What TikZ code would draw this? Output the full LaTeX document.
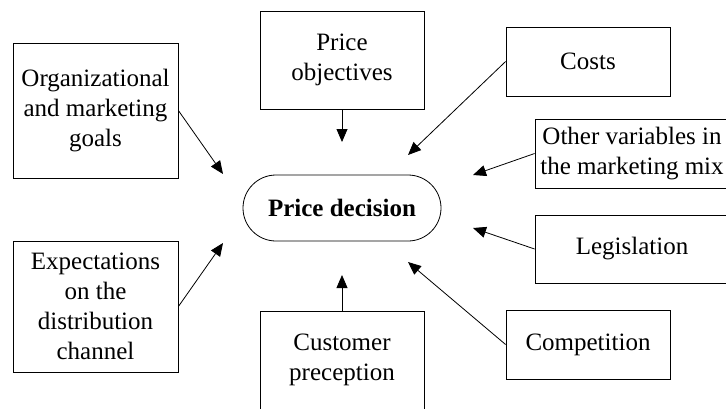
\documentclass[tikz,border=0pt]{standalone}
\usepackage{fontspec}
\setmainfont{Liberation Serif}
\usetikzlibrary{arrows.meta}
\begin{document}
\begin{tikzpicture}[x=1pt,y=-1pt,
  box/.style={draw, line width=0.8pt, rectangle, inner sep=0pt, align=center,
    font=\fontsize{25}{30}\selectfont},
  arr/.style={line width=0.8pt, -{Triangle[length=13pt,width=11pt]}}]
\useasboundingbox (0,0) rectangle (726,408);
\clip (0,0) rectangle (726,408);
\node[box, minimum width=165pt, minimum height=135pt] (org) at (95.5,110.5) {Organizational\\and marketing\\goals};
\node[box, minimum width=164pt, minimum height=98pt] (pobj) at (342,60) {Price\\objectives};
\node[box, minimum width=164pt, minimum height=69pt] (costs) at (588,61.5) {Costs};
\node[box, minimum width=194pt, minimum height=69pt] (other) at (632,153.5) {Other variables in\\the marketing mix};
\node[box, minimum width=194pt, minimum height=68pt] (legis) at (632,249) {Legislation};
\node[box, minimum width=164pt, minimum height=69pt] (comp) at (588,344.5) {Competition};
\node[box, minimum width=164pt, minimum height=98pt] (cust) at (342,360) {Customer\\preception};
\node[box, minimum width=165pt, minimum height=131pt] (exp) at (95.5,306.5) {Expectations\\on the\\distribution\\channel};
\node[box, minimum width=198pt, minimum height=66pt, rounded corners=33pt, font=\fontsize{25}{30}\selectfont\bfseries] (pd) at (342,208) {Price decision};
\coordinate (t1) at (223,174);
\coordinate (t2) at (342,142);
\coordinate (t3) at (408,155);
\coordinate (t4) at (473,175);
\coordinate (t5) at (473,228);
\coordinate (t6) at (408,262);
\coordinate (t7) at (342,275);
\coordinate (t8) at (223,243);
\draw[arr] (org.east) -- (t1);
\draw[arr] (pobj.south) -- (t2);
\draw[arr] (costs.west) -- (t3);
\draw[arr] (other.west) -- (t4);
\draw[arr] (legis.west) -- (t5);
\draw[arr] (comp.west) -- (t6);
\draw[arr] (cust.north) -- (t7);
\draw[arr] (exp.east) -- (t8);
\end{tikzpicture}
\end{document}
